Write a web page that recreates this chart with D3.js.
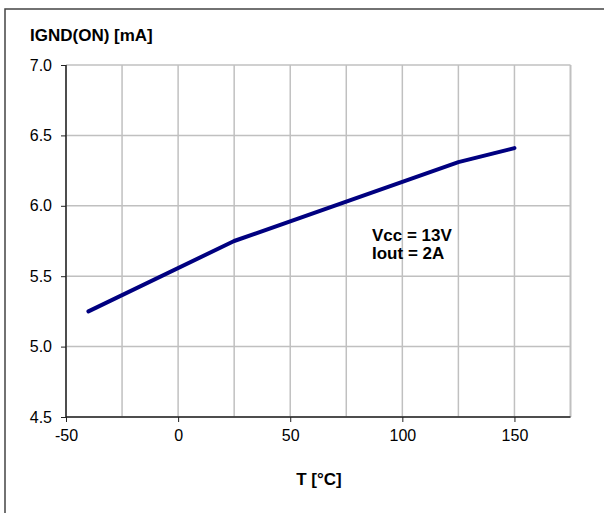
<!DOCTYPE html>
<html>
  <head>
    <script src="https://d3js.org/d3.v7.min.js"></script>
    <style>
      body { margin: 0; background: white; }
      text { font-family: "Liberation Sans", Arial, sans-serif; fill: black; }
      .bold { font-weight: bold; font-size: 17px; }
    </style>
  </head>
  <body>
    <svg id="main" width="604" height="513"></svg>
    <script>
      // data
      var temps = [-40, 25, 125, 150];
      var current = [5.25, 5.75, 6.31, 6.41];
      var xTicks = [-50, 0, 50, 100, 150];
      var xGrid = [-50, -25, 0, 25, 50, 75, 100, 125, 150, 175];
      var yTicks = [4.5, 5.0, 5.5, 6.0, 6.5, 7.0];
      var note = ["Vcc = 13V", "Iout = 2A"];

      var svg = d3.select('#main');

      // outer frame, runs off the right and bottom
      svg.append('rect')
        .attr('x', 5).attr('y', 9)
        .attr('width', 640).attr('height', 560)
        .attr('fill', 'none')
        .attr('stroke', '#444')
        .attr('stroke-width', 1.5);

      var x = d3.scaleLinear().domain([-50, 175]).range([66, 570.5]);
      var y = d3.scaleLinear().domain([4.5, 7.0]).range([417, 65]);

      // grid
      svg.append('g').selectAll('line').data(xGrid).enter()
        .append('line')
        .attr('x1', function(d) { return x(d); })
        .attr('x2', function(d) { return x(d); })
        .attr('y1', y(4.5)).attr('y2', y(7.0))
        .attr('stroke', '#c0c0c0')
        .attr('stroke-width', function(d) { return d == 175 ? 2 : 1.5; });

      svg.append('g').selectAll('line').data(yTicks).enter()
        .append('line')
        .attr('x1', x(-50)).attr('x2', x(175))
        .attr('y1', function(d) { return y(d); })
        .attr('y2', function(d) { return y(d); })
        .attr('stroke', '#c0c0c0')
        .attr('stroke-width', 1.5);

      // axes
      var xAxis = d3.axisBottom(x).tickValues(xTicks).tickSize(5).tickPadding(8)
        .tickFormat(function(d) { return String(d); });
      svg.append('g').attr('transform', 'translate(0,' + y(4.5) + ')')
        .call(xAxis)
        .call(function(g) {
          g.attr('font-family', null).attr('font-size', 16);
          g.select('.domain').attr('stroke', '#222').attr('stroke-width', 1.5)
            .attr('d', 'M' + x(-50) + ',0H' + x(175));
          g.selectAll('.tick line').attr('stroke', '#222');
        });

      var yAxis = d3.axisLeft(y).tickValues(yTicks).tickSize(5).tickPadding(9)
        .tickFormat(d3.format('.1f'));
      svg.append('g').attr('transform', 'translate(' + x(-50) + ',0)')
        .call(yAxis)
        .call(function(g) {
          g.attr('font-family', null).attr('font-size', 16);
          g.select('.domain').attr('stroke', '#222').attr('stroke-width', 1.5)
            .attr('d', 'M0,' + y(7.0) + 'V' + y(4.5));
          g.selectAll('.tick line').attr('stroke', '#222');
          g.selectAll('.tick text').attr('dy', '0.32em');
        });

      // curve
      var line = d3.line()
        .x(function(d, i) { return x(temps[i]); })
        .y(function(d) { return y(d); });
      svg.append('path')
        .datum(current)
        .attr('d', line)
        .attr('fill', 'none')
        .attr('stroke', '#000080')
        .attr('stroke-width', 4)
        .attr('stroke-linecap', 'round')
        .attr('stroke-linejoin', 'round');

      // labels
      svg.append('text').attr('class', 'bold')
        .attr('x', 30).attr('y', 41).text('IGND(ON) [mA]');
      svg.append('text').attr('class', 'bold')
        .attr('x', 319).attr('y', 485).attr('text-anchor', 'middle').text('T [°C]');
      svg.append('g').selectAll('text').data(note).enter()
        .append('text').attr('class', 'bold')
        .attr('x', 372)
        .attr('y', function(d, i) { return 241 + i * 18; })
        .text(function(d) { return d; });
    </script>
  </body>
</html>
